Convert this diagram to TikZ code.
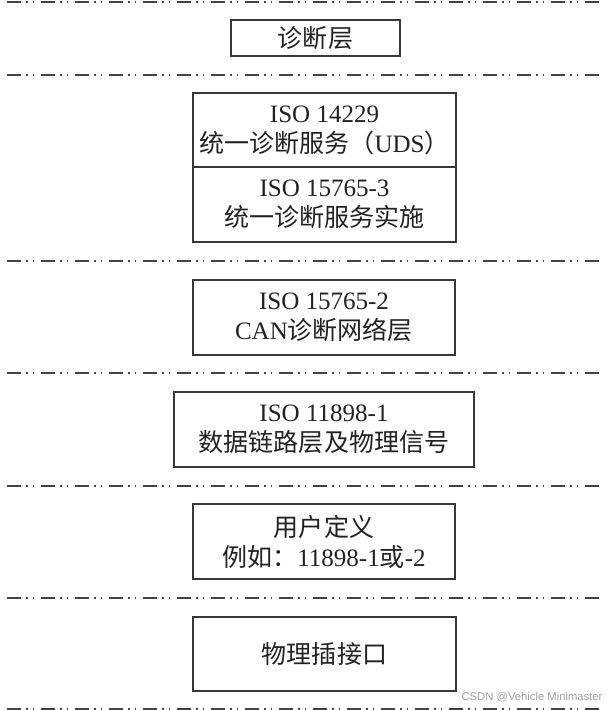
\documentclass[tikz,border=0pt]{standalone}
\usepackage{fontspec}
\setmainfont{Liberation Serif}
\newfontfamily\cjk{Noto Sans CJK SC}
\newfontfamily\wmfont{Liberation Sans}
\usetikzlibrary{positioning}
\definecolor{boxline}{HTML}{383838}
\definecolor{sepgray}{HTML}{444444}
\definecolor{txtdark}{HTML}{222222}
\definecolor{wmgray}{HTML}{A0A0A0}
\tikzset{
  layerbox/.style={rectangle, draw=boxline, line width=1.4pt, fill=white,
    align=center, inner sep=0pt, outer sep=0pt, text=txtdark,
    font=\fontsize{17.8}{21.3}\selectfont},
  sepline/.style={sepgray, line width=1.8pt,
    dash pattern=on 10pt off 3.6pt on 1pt off 3.6pt on 1pt off 5pt},
  watermark/.style={font=\wmfont\fontsize{8}{9}\selectfont, text=wmgray},
}

\begin{document}
\begin{tikzpicture}

  \useasboundingbox (0,0) rectangle (15.3,-17.75);

  % --- Trennlinien zwischen den Schichten ---
  \foreach \y in {0.05, 1.875, 6.525, 9.325, 12.15, 14.95, 17.725}
    \draw[sepline] (0.175,-\y) -- (15.05,-\y);

  % --- Diagnoseschicht ---
  \node[layerbox, minimum width=4.225cm, minimum height=0.9cm]
        (diag) at (7.8875,-0.95) {\cjk 诊断层};

  % --- Anwendungsschicht (UDS) ---
  \node[layerbox, minimum width=6.575cm, minimum height=1.85cm]
        (uds) at (8.1125,-3.25) {ISO 14229\\{\cjk 统一诊断服务（}UDS{\cjk ）}};
  \node[layerbox, minimum width=6.575cm, minimum height=1.875cm,
        below=0pt of uds] (udsimpl) {ISO 15765-3\\{\cjk 统一诊断服务实施}};

  % --- Netzwerkschicht ---
  \node[layerbox, minimum width=6.55cm, minimum height=1.875cm]
        (cantp) at (8.1,-7.9375) {ISO 15765-2\\CAN{\cjk 诊断网络层}};

  % --- Sicherungsschicht ---
  \node[layerbox, minimum width=7.5cm, minimum height=1.875cm]
        (datalink) at (8.1,-10.7375) {ISO 11898-1\\{\cjk 数据链路层及物理信号}};

  % --- Bituebertragung ---
  \node[layerbox, minimum width=6.55cm, minimum height=1.875cm]
        (userdef) at (8.1,-13.5375) {{\cjk 用户定义}\\{\cjk 例如：}11898-1{\cjk 或}-2};

  % --- Physikalische Schnittstelle ---
  \node[layerbox, minimum width=6.575cm, minimum height=1.85cm]
        (phys) at (8.1125,-16.35) {\cjk 物理插接口};

  \node[watermark] (wm) at (13.3,-17.425) {CSDN @Vehicle Minimaster};

\end{tikzpicture}
\end{document}
